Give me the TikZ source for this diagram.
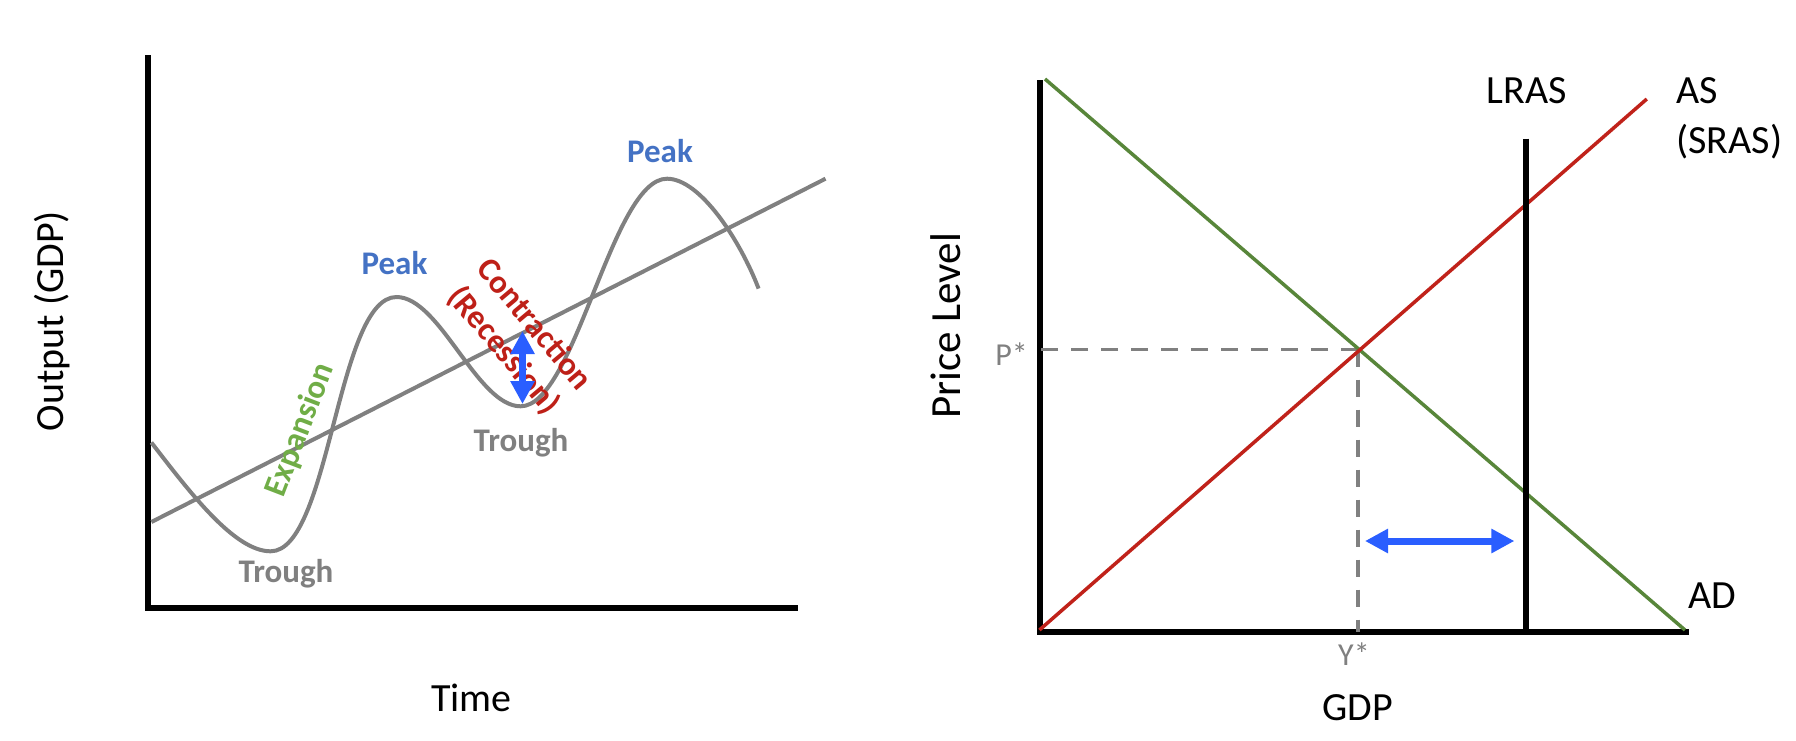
\documentclass[tikz,border=0pt]{standalone}
\usepackage{fontspec}
\setmainfont{Carlito}
\usetikzlibrary{arrows.meta}
\definecolor{cgray}{RGB}{128,128,128}
\definecolor{pkblue}{RGB}{68,114,196}
\definecolor{expgreen}{RGB}{112,173,71}
\definecolor{conred}{RGB}{190,32,24}
\definecolor{arrblue}{RGB}{42,94,255}
\definecolor{adgreen}{RGB}{88,134,58}
\definecolor{asred}{RGB}{192,34,26}
\tikzset{
  axisline/.style={line width=3pt, line join=miter},
  cycleline/.style={cgray, line width=2pt},
  bigarrow/.style={arrblue, line width=3.5pt, {Triangle[width=11.5pt,length=11.5pt]}-{Triangle[width=11.5pt,length=11.5pt]}},
  axislabel/.style={font=\fontsize{20}{24}\selectfont, inner sep=0pt},
  phaselabel/.style={font=\fontsize{16.5}{20}\selectfont\bfseries, inner sep=0pt},
  starlabel/.style={font=\fontsize{16}{19}\selectfont, text=cgray, inner sep=0pt},
  guide/.style={cgray, line width=1.75pt, dash pattern=on 8.5pt off 6.5pt},
  curveline/.style={line width=1.75pt},
}
\begin{document}
\begin{tikzpicture}[x=0.5pt,y=-0.5pt]
\useasboundingbox (0,0) rectangle (1796,740);

% ---------- left chart ----------
\draw[axisline] (147.5,55) -- (147.5,608) -- (798,608);
\coordinate (trendA) at (151.4,522);
\coordinate (trendB) at (825.5,178.7);
\draw[cycleline] (trendA) -- (trendB);
\draw[cycleline] (151.4,442.5) .. controls (191.4,494.5) and (235,551.3) .. (270.6,551.3)
  .. controls (330,551.3) and (337,297) .. (396.5,297)
  .. controls (440,297) and (477,406.3) .. (520.6,406.3)
  .. controls (575,406.3) and (612,178.7) .. (667,178.7)
  .. controls (700,178.7) and (740,240) .. (758.6,288.6);

\node[phaselabel, text=pkblue, anchor=base] (peak1) at (394.5,274) {Peak};
\node[phaselabel, text=pkblue, anchor=base] (peak2) at (660,162) {Peak};
\node[phaselabel, text=cgray, anchor=base] (trough1) at (286,582) {Trough};
\node[phaselabel, text=cgray, anchor=base] (trough2) at (521,451) {Trough};
\node[phaselabel, text=expgreen, rotate=69] (expansion) at (300.5,430) {Expansion};
\node[phaselabel, text=conred, rotate=-50, align=center] (contraction) at (518.5,338) {Contraction\\(Recession)};

\coordinate (gapTop) at (522.5,331);
\coordinate (gapBot) at (522.5,404);
\draw[bigarrow] (gapTop) -- (gapBot);

\node[axislabel, anchor=base] (time) at (471.5,711) {Time};
\node[axislabel, rotate=90, anchor=base] (output) at (63,321) {Output (GDP)};

% ---------- right chart ----------
\draw[axisline] (1040,80) -- (1040,632) -- (1689,632);
\coordinate (eq) at (1358,349.5);
\coordinate (peq) at (1040,349.5);
\coordinate (yeq) at (1358,632);
\draw[guide] (eq) -- (peq);
\draw[guide] (eq) -- (yeq);

\coordinate (adTop) at (1045,79);
\coordinate (adBot) at (1685,630);
\draw[curveline, adgreen] (adTop) -- (adBot);
\coordinate (asBot) at (1039.4,630);
\coordinate (asTop) at (1646.8,99);
\draw[curveline, asred] (asBot) -- (asTop);
\coordinate (lrasTop) at (1526,138.5);
\coordinate (lrasBot) at (1526,632);
\draw[line width=3pt] (lrasTop) -- (lrasBot);

\coordinate (gapL) at (1365,541);
\coordinate (gapR) at (1514.4,541);
\draw[bigarrow] (gapL) -- (gapR);

\node[starlabel, anchor=base] (pstar) at (1011.5,365) {P*};
\node[starlabel, anchor=base] (ystar) at (1354,665) {Y*};
\node[axislabel, anchor=base] (gdp) at (1357.5,720) {GDP};
\node[axislabel, rotate=90, anchor=base, font=\fontsize{21.5}{25}\selectfont] (price) at (960,326) {Price Level};
\node[axislabel, anchor=base] (lras) at (1527,103) {LRAS};
\node[axislabel, anchor=north west, align=left, font=\fontsize{20}{24.75}\selectfont] (as) at (1676,77.5) {AS\\(SRAS)};
\node[axislabel, anchor=base west] (ad) at (1688,608) {AD};
\end{tikzpicture}
\end{document}
